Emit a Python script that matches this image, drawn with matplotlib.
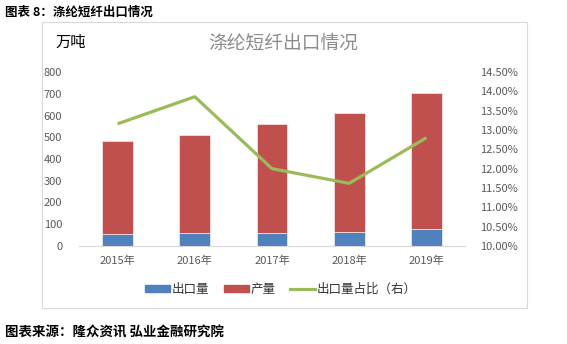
import matplotlib
matplotlib.use("Agg")
import matplotlib.pyplot as plt
from matplotlib.patches import Rectangle
from matplotlib.lines import Line2D
from matplotlib.ticker import FuncFormatter
import numpy as np

plt.rcParams['font.family'] = ['Noto Sans CJK SC', 'DejaVu Sans']

years = ['2015年', '2016年', '2017年', '2018年', '2019年']
export = [54, 61, 58, 63, 78]          # 出口量, 万吨
output = [429, 449, 503, 550, 625]     # 产量, 万吨 (stacked on export)
share = [13.16, 13.86, 12.00, 11.62, 12.80]  # 出口量占比, %

BLUE = '#4F81BD'
RED = '#C0504D'
GREEN = '#9BBB59'
TICK = '#595959'

fig = plt.figure(figsize=(5.67, 3.44), dpi=100)
fig.patch.set_facecolor('white')

# chart frame
fig.patches.append(Rectangle((42 / 567, 1 - 308 / 344), 485 / 567, 286 / 344,
                             transform=fig.transFigure, fill=False,
                             edgecolor='#D9D9D9', linewidth=0.8))

ax = fig.add_axes([79 / 567, 1 - 246 / 344, 386 / 567, 174 / 344])
x = np.arange(len(years))
ax.bar(x, export, width=0.4, color=BLUE, edgecolor='white', linewidth=0.4)
ax.bar(x, output, width=0.4, bottom=export, color=RED, edgecolor='white', linewidth=0.4)
ax.set_xlim(-0.5, len(years) - 0.5)
ax.set_ylim(0, 800)
ax.set_yticks(range(0, 801, 100))
ax.set_xticks(x)
ax.set_xticklabels(years)
for s in ['top', 'left', 'right']:
    ax.spines[s].set_visible(False)
ax.spines['bottom'].set_color('#D9D9D9')
ax.tick_params(length=0, labelsize=8, labelcolor=TICK)
ax.tick_params(axis='y', pad=12)
ax.tick_params(axis='x', pad=7)

ax2 = ax.twinx()
ax2.plot(x, share, color=GREEN, linewidth=2.3, solid_capstyle='butt')
ax2.set_ylim(10, 14.5)
ax2.set_yticks(np.arange(10, 14.51, 0.5))
ax2.yaxis.set_major_formatter(FuncFormatter(lambda v, p: f'{v:.2f}%'))
for s in ['top', 'left', 'right', 'bottom']:
    ax2.spines[s].set_visible(False)
ax2.tick_params(length=0, labelsize=8, labelcolor=TICK, pad=11)

fig.text(283 / 567, 1 - 43 / 344, '涤纶短纤出口情况', ha='center', va='center',
         fontsize=13.5, color='#8C8C8C')
fig.text(55 / 567, 1 - 42 / 344, '万吨', ha='left', va='center',
         fontsize=11, color='black')

handles = [Rectangle((0, 0), 1, 1, color=BLUE),
           Rectangle((0, 0), 1, 1, color=RED),
           Line2D([0], [0], color=GREEN, linewidth=2.3)]
fig.legend(handles, ['出口量', '产量', '出口量占比（右）'], loc='center',
           bbox_to_anchor=(281 / 567, 1 - 289 / 344), ncol=3, frameon=False,
           fontsize=9, handlelength=2.0, handleheight=0.5, handletextpad=0.1,
           columnspacing=1.2, labelcolor='#333333')

fig.text(5 / 567, 1 - 12 / 344, '图表 8：涤纶短纤出口情况', ha='left', va='center',
         fontsize=9, fontweight='bold', color='black')
fig.text(5 / 567, 1 - 333 / 344, '图表来源：隆众资讯 弘业金融研究院', ha='left', va='center',
         fontsize=9.7, fontweight='bold', color='black')

fig.savefig('out.png', dpi=100, facecolor='white')
